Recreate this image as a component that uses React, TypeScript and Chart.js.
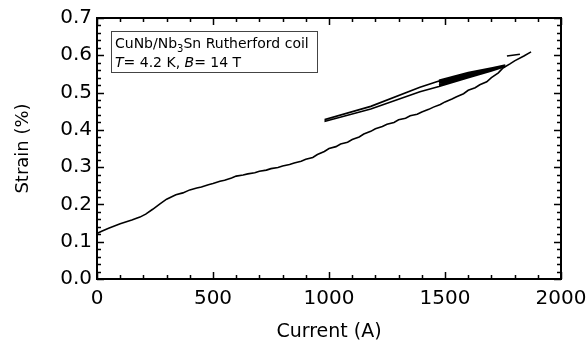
import React, { useEffect, useRef } from "react";
import { Chart, registerables } from "chart.js";

Chart.register(...registerables);

// Virgin (first ramp) curve
const virginCurrent = [0, 20, 50, 100, 150, 185, 210, 240, 270, 300, 340, 370, 400, 430, 450, 480, 500, 530, 550, 580, 600, 630, 650, 680, 700, 730, 750, 780, 800, 830, 850, 880, 900, 930, 950, 980, 1000, 1030, 1050, 1080, 1100, 1130, 1150, 1180, 1200, 1230, 1250, 1280, 1300, 1330, 1350, 1380, 1400, 1430, 1450, 1480, 1500, 1530, 1550, 1580, 1600, 1630, 1650, 1680, 1700, 1730, 1750, 1780, 1800, 1840, 1871];
const virginStrain = [0.122, 0.128, 0.136, 0.148, 0.158, 0.166, 0.174, 0.187, 0.201, 0.214, 0.226, 0.231, 0.239, 0.244, 0.247, 0.253, 0.256, 0.262, 0.265, 0.271, 0.276, 0.279, 0.282, 0.285, 0.289, 0.292, 0.296, 0.299, 0.303, 0.307, 0.311, 0.316, 0.321, 0.326, 0.334, 0.342, 0.350, 0.355, 0.362, 0.367, 0.374, 0.381, 0.389, 0.396, 0.403, 0.409, 0.415, 0.420, 0.427, 0.431, 0.438, 0.442, 0.448, 0.455, 0.461, 0.468, 0.475, 0.483, 0.489, 0.497, 0.506, 0.513, 0.521, 0.529, 0.540, 0.553, 0.566, 0.577, 0.585, 0.598, 0.609];

// Unload / reload cycles
const loopCurrent = [1760, 1700, 1600, 1474, 1392, 1180, 984, 984, 1180, 1392, 1474, 1600, 1700, 1760, 1474, 1600, 1760, 1474, 1600, 1760, 1474, 1600, 1760, 1474, 1600, 1760];
const loopStrain = [0.574, 0.566, 0.552, 0.531, 0.514, 0.463, 0.428, 0.423, 0.456, 0.502, 0.516, 0.540, 0.558, 0.570, 0.533, 0.554, 0.573, 0.529, 0.550, 0.572, 0.525, 0.547, 0.571, 0.520, 0.544, 0.570];

// Short dash segment near the peak
const dashCurrent = [1767, 1823];
const dashStrain = [0.598, 0.603];

const xTickValues = [0, 500, 1000, 1500, 2000];
const yTickValues = [0, 0.1, 0.2, 0.3, 0.4, 0.5, 0.6, 0.7];
const xMinorStep = 100;
const yMinorStep = 0.02;

const FONT = "'DejaVu Sans', 'Liberation Sans', sans-serif";

function pts(xs: number[], ys: number[]) {
  return xs.map((x, i) => ({ x, y: ys[i] }));
}

const framePlugin = {
  id: "framePlugin",
  afterDatasetsDraw(chart: any) {
    const { ctx, chartArea } = chart;
    const { left, right, top, bottom } = chartArea;
    const xs = chart.scales.x;
    const ys = chart.scales.y;
    ctx.save();
    ctx.strokeStyle = "#000";
    ctx.lineWidth = 1.5;
    const major = 7;
    const minor = 4;
    for (let i = 0; i <= 20; i++) {
      const v = i * xMinorStep;
      const len = i % 5 === 0 ? major : minor;
      const px = Math.round(xs.getPixelForValue(v)) + 0.5;
      ctx.beginPath();
      ctx.moveTo(px, bottom);
      ctx.lineTo(px, bottom - len);
      ctx.moveTo(px, top);
      ctx.lineTo(px, top + len);
      ctx.stroke();
    }
    for (let i = 0; i <= 35; i++) {
      const v = i * yMinorStep;
      const len = i % 5 === 0 ? major : minor;
      const py = Math.round(ys.getPixelForValue(v)) + 0.5;
      ctx.beginPath();
      ctx.moveTo(left, py);
      ctx.lineTo(left + len, py);
      ctx.moveTo(right, py);
      ctx.lineTo(right - len, py);
      ctx.stroke();
    }
    ctx.lineWidth = 2;
    ctx.strokeRect(left, top, right - left, bottom - top);

    // annotation box
    const bx = 111.5, by = 31.5, bw = 206, bh = 41;
    ctx.lineWidth = 1;
    ctx.strokeStyle = "#444";
    ctx.strokeRect(bx, by, bw, bh);
    ctx.fillStyle = "#000";
    ctx.textBaseline = "alphabetic";
    ctx.textAlign = "left";
    let x = 115;
    const normal = `14px ${FONT}`;
    const small = `10px ${FONT}`;
    const italic = `italic 14px ${FONT}`;
    const draw = (t: string, f: string, yy: number) => {
      ctx.font = f;
      ctx.fillText(t, x, yy);
      x += ctx.measureText(t).width;
    };
    const y1 = 48;
    draw("CuNb/Nb", normal, y1);
    draw("3", small, y1 + 4);
    draw("Sn Rutherford coil", normal, y1);
    x = 115;
    const y2 = 67;
    draw("T", italic, y2);
    draw("= 4.2 K, ", normal, y2);
    draw("B", italic, y2);
    draw("= 14 T", normal, y2);
    ctx.restore();
  },
};

export default function App() {
  const ref = useRef<HTMLCanvasElement | null>(null);
  useEffect(() => {
    if (!ref.current) return;
    const line = (data: any) => ({
      data,
      borderColor: "#000",
      borderWidth: 1.6,
      pointRadius: 0,
      fill: false,
      tension: 0,
      showLine: true,
    });
    const chart = new Chart(ref.current, {
      type: "line",
      data: {
        datasets: [
          line(pts(virginCurrent, virginStrain)),
          line(pts(loopCurrent, loopStrain)),
          line(pts(dashCurrent, dashStrain)),
        ],
      },
      options: {
        animation: false,
        responsive: false,
        devicePixelRatio: 1,
        layout: { padding: { left: 0, right: 26, top: 18, bottom: 0 } },
        plugins: { legend: { display: false }, tooltip: { enabled: false } },
        scales: {
          x: {
            type: "linear",
            min: 0,
            max: 2000,
            afterBuildTicks: (s: any) => {
              s.ticks = xTickValues.map((v) => ({ value: v }));
            },
            afterFit: (s: any) => {
              s.height = 61;
              s.paddingRight = 0;
              s.paddingLeft = 0;
            },
            grid: { display: false, drawTicks: false },
            border: { display: false },
            ticks: {
              color: "#000",
              font: { family: FONT, size: 20 },
              padding: 8,
              maxRotation: 0,
              autoSkip: false,
              callback: (v: any) => String(v),
            },
            title: {
              display: true,
              text: "Current (A)",
              color: "#000",
              font: { family: FONT, size: 19, lineHeight: 1 },
              padding: { top: 0, bottom: -2 },
            },
          },
          y: {
            type: "linear",
            min: 0,
            max: 0.7,
            afterBuildTicks: (s: any) => {
              s.ticks = yTickValues.map((v) => ({ value: v }));
            },
            afterFit: (s: any) => {
              s.width = 97;
              s.paddingTop = 0;
              s.paddingBottom = 0;
            },
            grid: { display: false, drawTicks: false },
            border: { display: false },
            ticks: {
              color: "#000",
              font: { family: FONT, size: 20 },
              padding: 5,
              autoSkip: false,
              callback: (v: any) => Number(v).toFixed(1),
            },
            title: {
              display: true,
              text: "Strain (%)",
              color: "#000",
              font: { family: FONT, size: 18, lineHeight: 1 },
              padding: { top: 14, bottom: 0 },
            },
          },
        },
      },
      plugins: [framePlugin],
    } as any);
    return () => chart.destroy();
  }, []);
  return (
    <div style={{ position: "fixed", left: 0, top: 0, width: 587, height: 340, background: "#fff" }}>
      <canvas ref={ref} width={587} height={340} style={{ display: "block" }} />
    </div>
  );
}
